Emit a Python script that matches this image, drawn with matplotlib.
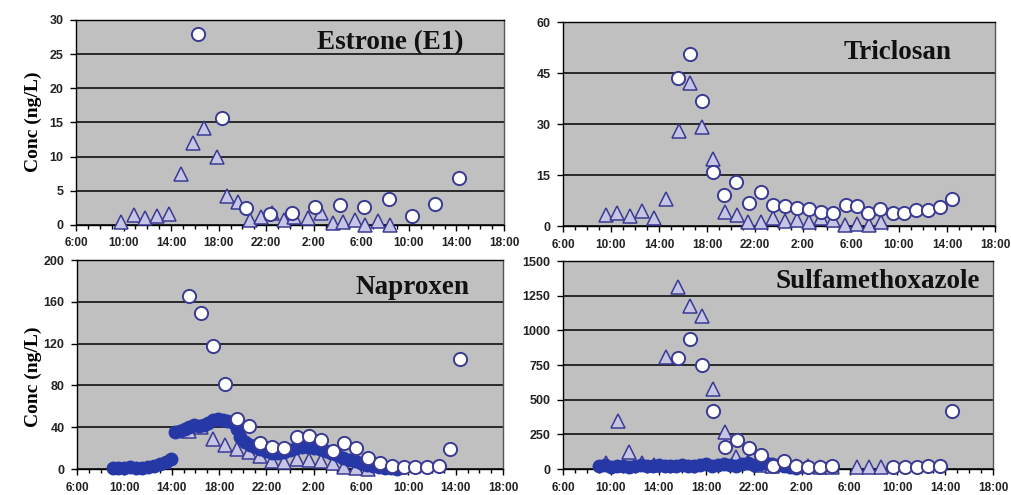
import matplotlib
matplotlib.use("Agg")
import matplotlib.pyplot as plt
from matplotlib.ticker import MultipleLocator, FixedLocator

# Sampling times are hours after 6:00 on day 1
tick_hours = [0, 4, 8, 12, 16, 20, 24, 28, 32, 36]
tick_labels = ["6:00", "10:00", "14:00", "18:00", "22:00", "2:00",
               "6:00", "10:00", "14:00", "18:00"]

# Estrone (E1)
e1_tri_t = [3.8, 4.9, 5.8, 6.85, 7.8, 8.85, 9.8, 10.8, 11.9, 12.7, 13.6, 14.6,
            15.6, 16.5, 17.5, 18.3, 19.5, 20.6, 21.6, 22.5, 23.5, 24.3, 25.4, 26.4]
e1_tri = [0.5, 1.5, 1.0, 1.3, 1.6, 7.5, 12.0, 14.2, 10.0, 4.2, 3.3, 0.7,
          1.2, 1.7, 0.7, 1.2, 1.0, 1.8, 0.3, 0.5, 0.7, 0.0, 0.6, 0.0]
e1_cir_t = [10.3, 12.3, 14.3, 16.3, 18.2, 20.1, 22.2, 24.2, 26.3, 28.3, 30.2, 32.2]
e1_cir = [28.0, 15.6, 2.5, 1.6, 1.8, 2.6, 2.9, 2.6, 3.8, 1.3, 3.1, 6.9]

# Triclosan
tcs_tri_t = [3.6, 4.5, 5.6, 6.6, 7.6, 8.6, 9.7, 10.6, 11.6, 12.5, 13.5, 14.5,
             15.4, 16.5, 17.5, 18.5, 19.5, 20.5, 21.5, 22.5, 23.5, 24.5, 25.5, 26.5]
tcs_tri = [3.2, 3.7, 2.9, 4.5, 2.3, 7.8, 27.9, 42.0, 29.0, 19.6, 4.2, 3.2,
           1.2, 1.2, 2.5, 1.5, 1.8, 1.3, 2.3, 1.8, 0.3, 0.6, 0.3, 1.3]
tcs_cir_t = [9.6, 10.6, 11.6, 12.5, 13.4, 14.4, 15.5, 16.5, 17.5, 18.5, 19.5, 20.5,
             21.5, 22.5, 23.6, 24.5, 25.4, 26.4, 27.5, 28.4, 29.4, 30.4, 31.4, 32.4]
tcs_cir = [43.6, 50.7, 36.7, 16.0, 9.0, 12.8, 6.8, 10.0, 6.2, 5.9, 5.3, 5.0,
           4.1, 3.8, 6.2, 6.0, 3.8, 5.0, 3.8, 3.8, 4.7, 4.8, 5.7, 7.8]

# Naproxen
npx_tri_t = [9.5, 10.5, 11.5, 12.5, 13.5, 14.5, 15.5, 16.5, 17.5, 18.6, 19.6, 20.6,
             21.6, 22.6, 23.6, 24.6]
npx_tri = [36, 40, 29, 23, 19, 16.6, 12, 7.7, 7, 10, 8.6, 7.7, 5.4, 2.2, 1.3, 0.3]
npx_fil_t = [3.0, 3.5, 4.0, 4.5, 5.0, 5.5, 6.0, 6.5, 7.0, 7.5, 7.9,
             8.3, 8.7, 9.1, 9.5, 9.9, 10.3, 10.7, 11.1, 11.5, 11.9, 12.3, 12.7,
             13.1, 13.5, 13.8, 14.2, 14.6, 15.0, 15.5, 16.0, 16.5, 17.0, 17.5,
             18.0, 18.5, 19.0, 19.5, 20.0, 20.5, 21.0, 21.5, 22.0, 22.5, 23.0,
             23.5, 24.0, 24.5, 25.0, 25.5, 26.0, 26.5, 27.0]
npx_fil = [0.5, 1, 0.5, 1.5, 1, 0.5, 2, 3, 5, 7, 10,
           35, 36, 38, 40, 42, 41, 42, 44, 47, 48, 47, 46,
           45, 38, 31, 26, 23, 21, 19, 17, 15, 15, 16,
           18, 20, 21, 21, 20, 19, 17, 15, 13, 11, 9,
           8, 6, 4, 3, 2, 1, 0.5, 0]
npx_cir_t = [9.5, 10.5, 11.5, 12.5, 13.5, 14.5, 15.5, 16.5, 17.5, 18.6, 19.6, 20.6,
             21.6, 22.6, 23.6, 24.6, 25.6, 26.6, 27.6, 28.6, 29.6, 30.6, 31.5, 32.4]
npx_cir = [166, 149, 118, 81, 48, 41.5, 24.6, 21.4, 20, 30.6, 31.6, 27.8,
           17.5, 24.5, 20.5, 10.2, 5.6, 2.5, 2, 2, 2.2, 3, 19, 105]

# Sulfamethoxazole
smx_tri_t = [3.6, 4.6, 5.5, 6.6, 7.6, 8.6, 9.6, 10.6, 11.6, 12.6, 13.6, 14.5,
             15.5, 16.5, 17.5, 18.5, 19.5, 20.5, 21.5, 22.5, 24.6, 25.6, 26.6]
smx_tri = [40, 346, 125, 40, 30, 810, 1310, 1175, 1100, 580, 265, 90,
           50, 30, 20, 45, 25, 20, 18, 15, 15, 15, 15]
smx_fil_t = [3.0, 3.5, 4.0, 4.5, 5.0, 5.5, 6.0, 6.5, 7.0, 7.5, 8.0, 8.5,
             9.0, 9.5, 10.0, 10.5, 11.0, 11.5, 12.0, 12.5, 13.0, 13.5, 14.0,
             14.5, 15.0, 15.5, 16.0, 16.5, 17.0, 17.5, 18.0, 18.5, 19.0, 19.5]
smx_fil = [20, 30, 15, 25, 20, 15, 25, 30, 20, 25, 30, 20,
           25, 20, 30, 25, 20, 30, 35, 25, 30, 35, 30,
           25, 35, 40, 30, 35, 40, 35, 30, 20, 15, 10]
smx_cir_t = [9.6, 10.6, 11.6, 12.6, 13.6, 14.6, 15.6, 16.6, 17.6, 18.5, 19.5, 20.5,
             21.5, 22.5, 27.6, 28.6, 29.6, 30.6, 31.6, 32.6]
smx_cir = [798, 935, 750, 420, 160, 209, 151, 100, 25, 58, 25, 15,
           15, 20, 15, 15, 15, 20, 25, 420]

EDGE = "#3a3a94"
TRI_FACE = "#c6c6e4"
FILL = "#2638a6"
BG = "#c0c0c0"

fig = plt.figure(figsize=(10.12, 4.95), dpi=100)

panels = [
    dict(rect=[0.0751, 0.5455, 0.4229, 0.4141], title="Estrone (E1)",
         tpos=(0.905, 0.888), ymax=30, ystep=5,
         tri=(e1_tri_t, e1_tri), fil=None, cir=(e1_cir_t, e1_cir)),
    dict(rect=[0.5563, 0.5434, 0.4269, 0.4121], title="Triclosan",
         tpos=(0.90, 0.85), ymax=60, ystep=15,
         tri=(tcs_tri_t, tcs_tri), fil=None, cir=(tcs_cir_t, tcs_cir)),
    dict(rect=[0.0761, 0.0525, 0.4210, 0.4222], title="Naproxen",
         tpos=(0.922, 0.87), ymax=200, ystep=40,
         tri=(npx_tri_t, npx_tri), fil=(npx_fil_t, npx_fil), cir=(npx_cir_t, npx_cir)),
    dict(rect=[0.5563, 0.0525, 0.4249, 0.4202], title="Sulfamethoxazole",
         tpos=(0.97, 0.90), ymax=1500, ystep=250,
         tri=(smx_tri_t, smx_tri), fil=(smx_fil_t, smx_fil), cir=(smx_cir_t, smx_cir)),
]

for p in panels:
    ax = fig.add_axes(p["rect"])
    ax.set_facecolor(BG)
    ax.set_xlim(0, 36)
    ax.set_ylim(0, p["ymax"])
    ax.xaxis.set_major_locator(FixedLocator(tick_hours))
    ax.xaxis.set_minor_locator(MultipleLocator(1))
    ax.set_xticklabels(tick_labels)
    ax.yaxis.set_major_locator(MultipleLocator(p["ystep"]))
    ax.grid(axis="y", color="black", linewidth=1.1)
    ax.set_axisbelow(True)
    for s in ax.spines.values():
        s.set_color("black")
        s.set_linewidth(1.0)
    ax.spines["right"].set_color("#555555")
    ax.tick_params(axis="x", which="major", direction="out", length=4, width=1,
                   pad=5, labelsize=8.5)
    ax.tick_params(axis="x", which="minor", direction="out", length=3, width=1)
    ax.tick_params(axis="y", direction="out", length=4, width=1, pad=5, labelsize=9)
    for lab in ax.get_xticklabels() + ax.get_yticklabels():
        lab.set_fontfamily("Liberation Sans")
        lab.set_fontweight("bold")
        lab.set_color("#222222")

    tt, tv = p["tri"]
    ax.plot(tt, tv, linestyle="none", marker="^", markersize=10,
            markerfacecolor=TRI_FACE, markeredgecolor=EDGE, markeredgewidth=1.1,
            clip_on=False, zorder=3)
    if p["fil"] is not None:
        ft, fv = p["fil"]
        ax.plot(ft, fv, linestyle="none", marker="o", markersize=9,
                markerfacecolor=FILL, markeredgecolor=FILL, markeredgewidth=1.0,
                clip_on=False, zorder=4)
    ct, cv = p["cir"]
    ax.plot(ct, cv, linestyle="none", marker="o", markersize=9.5,
            markerfacecolor="white", markeredgecolor=EDGE, markeredgewidth=1.4,
            clip_on=False, zorder=5)

    ax.text(p["tpos"][0], p["tpos"][1], p["title"], transform=ax.transAxes,
            ha="right", va="center", fontfamily="Liberation Serif",
            fontweight="bold", fontsize=19.5, color="#111111", zorder=6)

for yc in (1 - 122 / 495, 1 - 377 / 495):
    fig.text(33 / 1012, yc, "Conc (ng/L)", rotation=90, ha="center", va="center",
             fontfamily="Liberation Serif", fontweight="bold", fontsize=14)

fig.savefig("out.png", dpi=100, facecolor="white")
